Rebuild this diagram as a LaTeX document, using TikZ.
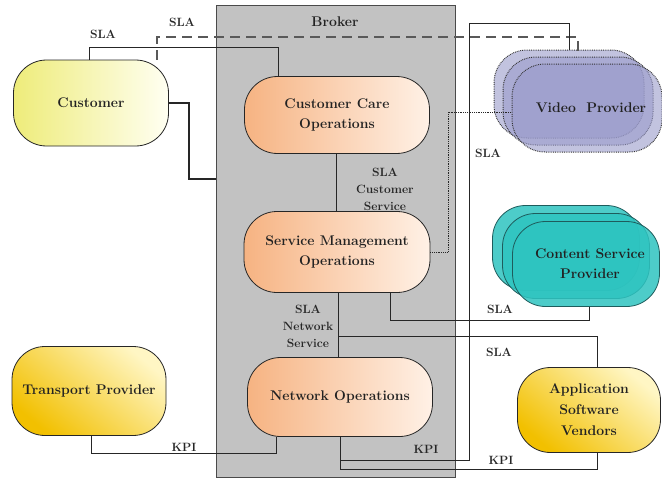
\documentclass[tikz,border=0pt]{standalone}
\usetikzlibrary{calc}
\definecolor{linec}{HTML}{262626}
\definecolor{brokerfill}{HTML}{C2C2C2}
\definecolor{brokerline}{HTML}{4A4A4A}
\definecolor{custL}{HTML}{EEEC7A}
\definecolor{custR}{HTML}{FFFFF2}
\definecolor{oraL}{HTML}{F6B382}
\definecolor{oraR}{HTML}{FFF1E6}
\definecolor{goldD}{HTML}{F2C000}
\definecolor{goldL}{HTML}{FFF6C4}
\definecolor{vidF}{HTML}{9A9BCB}
\definecolor{cspF}{HTML}{2EC4C0}
\definecolor{cspO}{HTML}{1E5C5C}
\definecolor{txt}{HTML}{222222}
\tikzset{
  x=1pt, y=-1pt,
  pill/.style={draw=linec, line width=0.8pt, rounded corners=33pt, align=center,
     text=txt, font=\bfseries\fontsize{14}{20}\selectfont, inner sep=2pt},
  custpill/.style={pill, left color=custL, right color=custR},
  orapill/.style={pill, left color=oraL, right color=oraR},
  goldpill/.style={pill, top color=goldL, bottom color=goldD, shading angle=-40},
  vidpill/.style={pill, draw=black!80, densely dotted, line width=1pt, fill=vidF, fill opacity=0.6, text opacity=1},
  csppill/.style={pill, draw=cspO, fill=cspF, fill opacity=0.85, text opacity=1},
  conn/.style={draw=linec, line width=0.8pt},
  lbl/.style={font=\bfseries\fontsize{12}{17}\selectfont, text=black!85, align=center, inner sep=0pt},
}
\begin{document}
\begin{tikzpicture}
\useasboundingbox (0,0) rectangle (662,479);
\fill[white] (0,0) rectangle (662,479);
% Broker box
\node[draw=brokerline, line width=0.9pt, fill=brokerfill, minimum width=239pt, minimum height=472pt, inner sep=0pt] (broker) at (336,241) {};
\node[font=\bfseries\fontsize{14}{17}\selectfont, text=txt] (brokerlbl) at (335,22) {Broker};

% stacked providers
\node[vidpill, minimum width=150pt, minimum height=88pt] (vid1) at (569,94) {};
\node[vidpill, minimum width=150pt, minimum height=88pt] (vid2) at (578,101) {};
\node[vidpill, minimum width=150pt, minimum height=88pt] (vid3) at (587,108) {\hspace{8pt}Video\ \ Provider};

\node[csppill, minimum width=147pt, minimum height=85pt] (csp1) at (566,248) {};
\node[csppill, minimum width=147pt, minimum height=85pt] (csp2) at (576,256) {};
\node[csppill, minimum width=147pt, minimum height=85pt] (csp3) at (586,264) {\hspace{8pt}Content Service\\\hspace{8pt}Provider};

% main nodes
\node[custpill, minimum width=155pt, minimum height=86pt] (cust) at (91,103) {Customer};
\node[orapill, minimum width=185pt, minimum height=77pt] (cco) at (337,115) {Customer Care\\Operations};
\node[orapill, minimum width=186pt, minimum height=81pt] (smo) at (337,252) {Service Management\\Operations};
\node[orapill, minimum width=185pt, minimum height=79pt] (nop) at (340,397) {Network Operations};
\node[goldpill, minimum width=154pt, minimum height=89pt] (tp) at (89,391) {Transport Provider};
\node[goldpill, minimum width=143pt, minimum height=85pt, font=\bfseries\fontsize{14}{21}\selectfont] (asv) at (589,410) {Application\\Software\\Vendors};

% connectors
\draw[conn] (89,0 |- cust.north) -- (89,47) -| (278,0 |- cco.north);
\draw[conn, dashed, dash pattern=on 10pt off 6pt, line width=1.3pt, draw=black!65] (157,0 |- cust.north) -- (157,37) -| (578,0 |- vid2.north);
\draw[conn] (340,0 |- nop.south) -- (340,460) -- (469,460) -- (469,23) -| (569,0 |- vid1.north);
\draw[conn] (340,0 |- nop.south) -- (340,469) -| (597,0 |- asv.south);
\draw[conn] (91,0 |- tp.south) -- (91,453) -| (276,0 |- nop.south);
\draw[conn, line width=1.3pt] (cust.east) -- (189,0 |- cust.east) -- (189,179) -- (broker.west |- 0,179);
\draw[conn] (336,0 |- cco.south) -- (336,0 |- smo.north);
\draw[conn] (338,0 |- smo.south) -- (338,0 |- nop.north);
\coordinate (junc) at (338,336);
\draw[conn] (junc) -| (597,0 |- asv.north);
\draw[conn] (390,0 |- smo.south) -- (390,320) -| (589,0 |- csp3.south);
\draw[conn, densely dotted, line width=1pt] (smo.east) -- (448,0 |- smo.east) -- (448,112) -- (vid3.west |- 0,112);

% labels
\node[lbl] (l1) at (103,34) {SLA};
\node[lbl] (l2) at (182,22) {SLA};
\node[lbl] (l3) at (385,189) {SLA\\Customer\\Service};
\node[lbl] (l4) at (308,326) {SLA\\Network\\Service};
\node[lbl] (l5) at (488,153) {SLA};
\node[lbl] (l6) at (500,309) {SLA};
\node[lbl] (l7) at (499,352) {SLA};
\node[lbl] (l8) at (184,447) {KPI};
\node[lbl] (l9) at (426,449) {KPI};
\node[lbl] (l10) at (501,460) {KPI};
\end{tikzpicture}
\end{document}
